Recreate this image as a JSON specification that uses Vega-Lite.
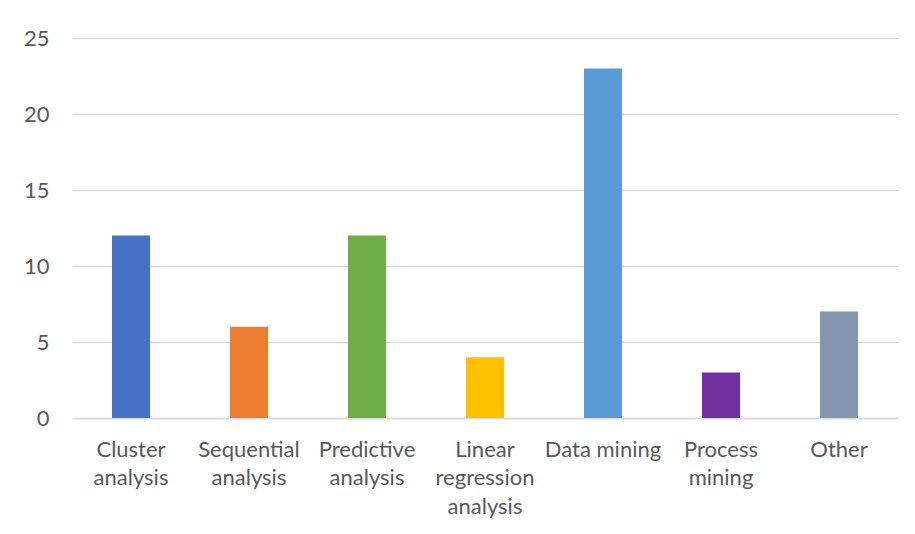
{
  "$schema": "https://vega.github.io/schema/vega-lite/v6.json",
  "width": 826,
  "height": 380,
  "autosize": {"type": "none"},
  "padding": {"left": 72, "top": 38, "right": 17, "bottom": 116},
  "background": "white",
  "data": {
    "values": [
      {"method": "Cluster analysis", "count": 12},
      {"method": "Sequential analysis", "count": 6},
      {"method": "Predictive analysis", "count": 12},
      {"method": "Linear regression analysis", "count": 4},
      {"method": "Data mining", "count": 23},
      {"method": "Process mining", "count": 3},
      {"method": "Other", "count": 7}
    ]
  },
  "mark": {"type": "bar", "width": {"band": 0.322}},
  "encoding": {
    "x": {
      "field": "method",
      "type": "nominal",
      "sort": null,
      "scale": {"paddingInner": 0, "paddingOuter": 0},
      "axis": {
        "title": null,
        "labelAngle": 0,
        "ticks": false,
        "domain": true,
        "domainColor": "#d9d9d9",
        "domainWidth": 1.5,
        "labelFont": "Lato",
        "labelFontSize": 22,
        "labelColor": "#595959",
        "labelPadding": 21,
        "labelLineHeight": 28.5,
        "labelLimit": 0,
        "labelExpr": "datum.label == 'Data mining' || datum.label == 'Other' ? datum.label : split(datum.label, ' ')"
      }
    },
    "y": {
      "field": "count",
      "type": "quantitative",
      "scale": {"domain": [0, 25], "nice": false},
      "axis": {
        "title": null,
        "values": [0, 5, 10, 15, 20, 25],
        "ticks": false,
        "domain": false,
        "grid": true,
        "gridColor": "#d9d9d9",
        "gridWidth": 1.5,
        "labelFont": "Lato",
        "labelFontSize": 22,
        "labelColor": "#595959",
        "labelPadding": 23
      }
    },
    "color": {
      "field": "method",
      "type": "nominal",
      "sort": null,
      "legend": null,
      "scale": {
        "domain": ["Cluster analysis", "Sequential analysis", "Predictive analysis", "Linear regression analysis", "Data mining", "Process mining", "Other"],
        "range": ["#4472C4", "#ED7D31", "#70AD47", "#FFC000", "#5B9BD5", "#7030A0", "#8497B0"]
      }
    }
  },
  "config": {"view": {"stroke": null}}
}
